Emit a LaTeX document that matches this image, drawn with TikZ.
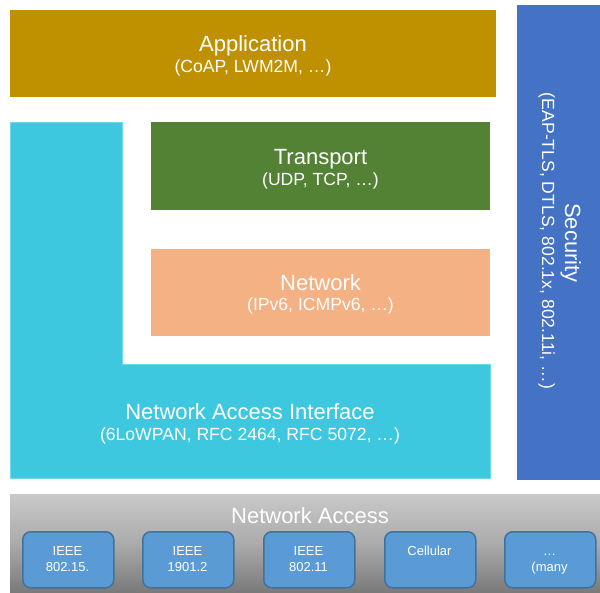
\documentclass[tikz,border=0pt]{standalone}
\usepackage{fontspec}
\setmainfont{Liberation Sans}
\definecolor{appgold}{HTML}{BF9000}
\definecolor{transgreen}{HTML}{548235}
\definecolor{netorange}{HTML}{F4B183}
\definecolor{naicyan}{HTML}{3EC8E0}
\definecolor{naiedge}{HTML}{6FD8EC}
\definecolor{secblue}{HTML}{4472C4}
\definecolor{accfill}{HTML}{5B9BD5}
\definecolor{accedge}{HTML}{41719C}
\definecolor{graytop}{HTML}{C9C9C9}
\definecolor{graymid}{HTML}{ABABAB}
\definecolor{graybot}{HTML}{7A7A7A}
\tikzset{
  layerbox/.style={anchor=north west, inner sep=0pt, outer sep=0pt, draw=none},
  titletext/.style={anchor=base, inner sep=0pt, text=white, font=\fontsize{22}{26}\selectfont},
  subtext/.style={anchor=base, inner sep=0pt, text=white, font=\fontsize{17.6}{21}\selectfont},
  accbox/.style={anchor=north west, inner sep=0pt, minimum width=91pt, minimum height=56pt,
    rounded corners=8pt, fill=accfill, draw=accedge, line width=1.5pt},
  acctext/.style={anchor=base, inner sep=0pt, text=white, font=\fontsize{13}{15}\selectfont}
}
\begin{document}
\begin{tikzpicture}[x=1pt,y=-1pt]
\useasboundingbox (0,0) rectangle (600,592);

% Application layer
\node[layerbox, fill=appgold, minimum width=486pt, minimum height=87pt] (app) at (10,10) {};
\node[titletext] (apptitle) at (253,51) {Application};
\node[subtext] (appsub) at (253,72) {(CoAP, LWM2M, …)};

% Network access interface (L-shaped band)
\fill[naicyan, draw=naiedge, line width=0.8pt]
  (10,122) -- (122,122) -- (122,364) -- (490,364) -- (490,478) -- (10,478) -- cycle;
\node[titletext] (naititle) at (250,419) {Network Access Interface};
\node[subtext] (naisub) at (250,440) {(6LoWPAN, RFC 2464, RFC 5072, …)};

% Transport layer
\node[layerbox, fill=transgreen, minimum width=339pt, minimum height=88pt] (trans) at (151,122) {};
\node[titletext] (transtitle) at (320.5,164) {Transport};
\node[subtext] (transsub) at (320.5,185) {(UDP, TCP, …)};

% Network layer
\node[layerbox, fill=netorange, minimum width=339pt, minimum height=87pt] (net) at (151,249) {};
\node[titletext] (nettitle) at (320.5,290) {Network};
\node[subtext] (netsub) at (320.5,310) {(IPv6, ICMPv6, …)};

% Security column
\node[layerbox, fill=secblue, minimum width=83pt, minimum height=475pt] (sec) at (517,5) {};
\node[titletext, rotate=-90] (sectitle) at (565,243) {Security};
\node[subtext, rotate=-90] (secsub) at (542,241) {(EAP-TLS, DTLS, 802.1x, 802.11i, …)};

% Network access band
\shade[top color=graytop, bottom color=graybot, middle color=graymid] (10,494) rectangle (600,592);
\node[titletext] (acctitle) at (310,523) {Network Access};

\node[accbox] (acc1) at (22,531) {};
\node[acctext] (acc1a) at (67.5,555) {IEEE};
\node[acctext] (acc1b) at (67.5,571) {802.15.};

\node[accbox] (acc2) at (142,531) {};
\node[acctext] (acc2a) at (187.5,555) {IEEE};
\node[acctext] (acc2b) at (187.5,571) {1901.2};

\node[accbox] (acc3) at (263,531) {};
\node[acctext] (acc3a) at (308.5,555) {IEEE};
\node[acctext] (acc3b) at (308.5,571) {802.11};

\node[accbox] (acc4) at (384,531) {};
\node[acctext] (acc4a) at (429.5,555) {Cellular};

\node[accbox] (acc5) at (504,531) {};
\node[acctext] (acc5a) at (549.5,555) {…};
\node[acctext] (acc5b) at (549.5,571) {(many};
\end{tikzpicture}
\end{document}
